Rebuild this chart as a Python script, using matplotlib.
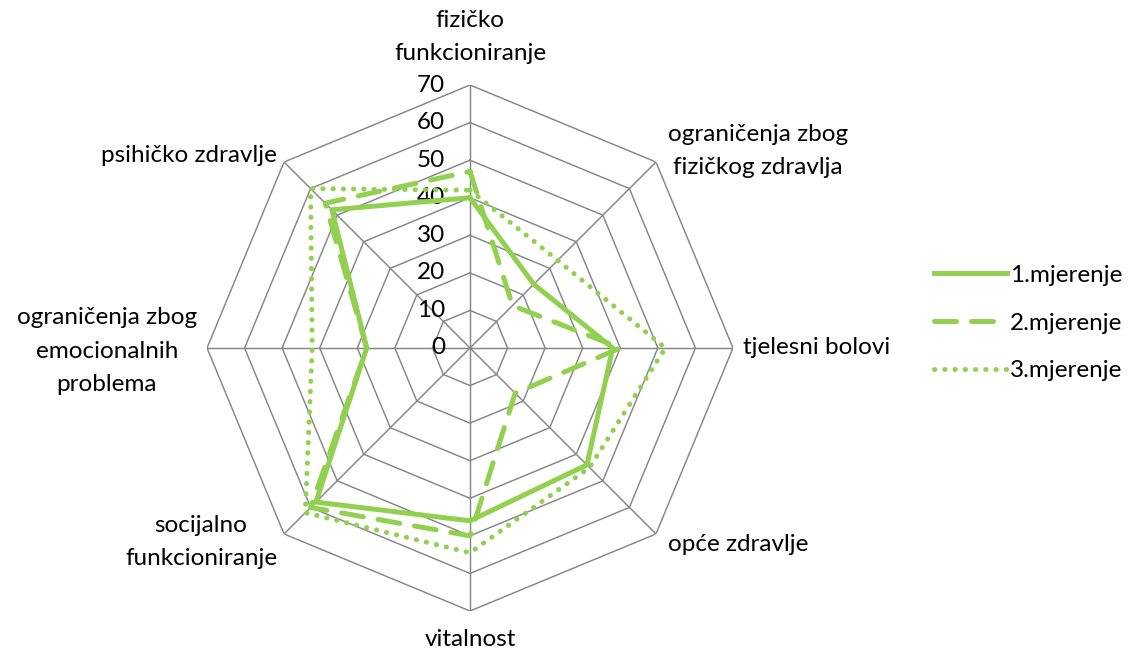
import numpy as np
import matplotlib.pyplot as plt
from matplotlib.lines import Line2D

plt.rcParams['font.family'] = ['Lato', 'DejaVu Sans']

categories = ["fizičko\nfunkcioniranje", "ograničenja zbog\nfizičkog zdravlja",
              "tjelesni bolovi", "opće zdravlje", "vitalnost",
              "socijalno\nfunkcioniranje", "ograničenja zbog\nemocionalnih\nproblema",
              "psihičko zdravlje"]
mjerenje_1 = [40, 24, 38, 44, 46, 58, 27.5, 52]
mjerenje_2 = [47, 16, 40, 17, 50, 60, 27.5, 54.5]
mjerenje_3 = [42, 33, 52, 45, 54.5, 62, 42, 60]
series_names = ["1.mjerenje", "2.mjerenje", "3.mjerenje"]
ticks = [0, 10, 20, 30, 40, 50, 60, 70]

green = '#92D050'
grey = '#868686'
fs = 17.5

n = len(categories)
theta = np.linspace(0, 2 * np.pi, n, endpoint=False)
theta_c = np.append(theta, theta[0])

fig = plt.figure(figsize=(11.31, 6.57), dpi=100)
ax = fig.add_axes([207 / 1131, 46 / 657, 526 / 1131, 526 / 657], projection='polar')
ax.set_theta_zero_location('N')
ax.set_theta_direction(-1)
ax.set_ylim(0, 70)
ax.grid(False)
ax.spines['polar'].set_visible(False)
ax.set_xticks([])
ax.set_yticks([])
ax.patch.set_visible(False)

# octagon rings and spokes
for t in ticks[1:]:
    ax.plot(theta_c, [t] * (n + 1), color=grey, lw=1.05, zorder=1)
for th in theta:
    ax.plot([th, th], [0, 70], color=grey, lw=1.05, zorder=1)

# tick labels
for t in ticks:
    ax.annotate(str(t), xy=(0, t), xytext=(-25, 0), textcoords='offset pixels',
                ha='right', va='center', fontsize=fs, annotation_clip=False)

# series
styles = [dict(linestyle='-'),
          dict(linestyle=(0, (4.4, 3.0)), dash_capstyle='round'),
          dict(linestyle=(0, (0.05, 2.0)), dash_capstyle='round')]
for vals, st, name in zip([mjerenje_1, mjerenje_2, mjerenje_3], styles, series_names):
    ax.plot(theta_c, vals + vals[:1], color=green, lw=3.6, label=name, zorder=3, **st)

# category labels
offsets = [(0, 48, 'center'), (12, 11, 'left'), (10, 0, 'left'), (12, -11, 'left'),
           (0, -29, 'center'), (-7, -8, 'right'), (-10, -3, 'right'), (-7, 7, 'right')]
for th, lab, (dx, dy, ha) in zip(theta, categories, offsets):
    ax.annotate(lab, xy=(th, 70), xytext=(dx, dy), textcoords='offset pixels',
                ha=ha, va='center', multialignment='center', fontsize=fs,
                linespacing=1.75, annotation_clip=False)

handles = [Line2D([], [], color=green, lw=3.6, **st) for st in styles]
fig.legend(handles, series_names, loc='center left',
           bbox_to_anchor=(912 / 1131, 1 - 323 / 657), frameon=False,
           fontsize=fs, handlelength=3.0, handletextpad=0.12, labelspacing=1.1)

fig.savefig('out.png', dpi=100)
